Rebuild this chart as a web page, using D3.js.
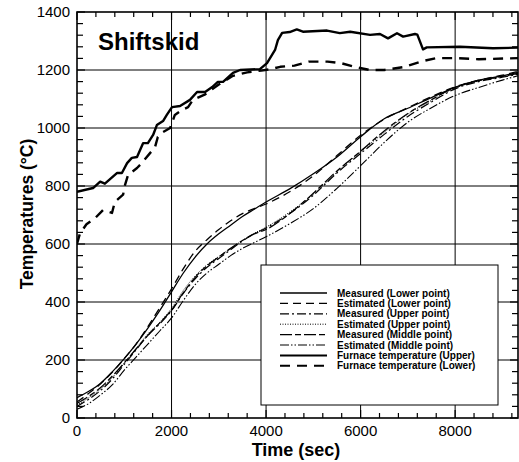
<!DOCTYPE html>
<html>
<head>
<meta charset="utf-8">
<script src="https://cdn.jsdelivr.net/npm/d3@7"></script>
<style>
  body { margin: 0; background: #fff; }
  svg { display: block; font-family: "Liberation Sans", Arial, sans-serif; }
</style>
</head>
<body>
<svg id="lienzo" width="519" height="462"></svg>
<script>
// Tiempo (s) de las curvas de la probeta
const specimenTime = [0, 250, 500, 750, 1000, 1250, 1500, 1750, 2000, 2250, 2500, 2750, 3000, 3250, 3500, 3750, 4000, 4500, 5000, 5500, 6000, 6500, 7000, 7500, 8000, 8500, 9000, 9330];

const measuredLower  = [70, 92, 120, 160, 205, 255, 310, 370, 435, 500, 555, 600, 635, 665, 695, 720, 745, 790, 842, 900, 970, 1032, 1068, 1105, 1140, 1165, 1180, 1192];
const estimatedLower = [55, 85, 118, 158, 205, 255, 315, 380, 445, 515, 575, 615, 650, 680, 705, 722, 738, 780, 835, 905, 975, 1030, 1070, 1108, 1142, 1165, 1182, 1195];
const measuredUpper  = [40, 65, 95, 135, 185, 235, 285, 325, 370, 430, 480, 520, 550, 580, 610, 635, 655, 705, 768, 845, 912, 978, 1040, 1090, 1135, 1160, 1175, 1185];
const estimatedUpper = [45, 70, 100, 140, 190, 240, 290, 330, 378, 440, 490, 528, 557, 585, 612, 637, 658, 710, 772, 848, 918, 985, 1048, 1095, 1138, 1162, 1178, 1188];
const measuredMiddle = [50, 75, 105, 145, 190, 238, 285, 328, 372, 432, 485, 525, 555, 585, 612, 635, 650, 705, 775, 852, 920, 990, 1050, 1098, 1140, 1163, 1178, 1188];
const estimatedMiddle = [30, 50, 80, 115, 165, 210, 255, 300, 345, 405, 460, 500, 530, 560, 585, 605, 625, 670, 722, 792, 870, 950, 1020, 1070, 1112, 1140, 1165, 1180];

// Horno, parte superior
const furnaceUpperTime = [0, 340, 490, 590, 850, 950, 1060, 1160, 1270, 1400, 1500, 1610, 1690, 1820, 1900, 2010, 2180, 2390, 2540, 2710, 2860, 2980, 3090, 3300, 3450, 3870, 4020, 4190, 4250, 4340, 4500, 4650, 4780, 5290, 5560, 5780, 6200, 6410, 6580, 6770, 6900, 7150, 7200, 7320, 7400, 8100, 8800, 9330];
const furnaceUpperTemp = [780, 793, 815, 808, 845, 845, 879, 897, 900, 948, 948, 976, 1010, 1024, 1045, 1072, 1076, 1097, 1124, 1124, 1141, 1159, 1159, 1190, 1200, 1203, 1224, 1269, 1303, 1328, 1331, 1340, 1332, 1336, 1327, 1332, 1321, 1324, 1309, 1327, 1315, 1324, 1322, 1271, 1278, 1280, 1275, 1277];

// Horno, parte inferior
const furnaceLowerTime = [0, 60, 200, 400, 550, 740, 800, 975, 1015, 1080, 1270, 1375, 1650, 1710, 1820, 1970, 2070, 2220, 2350, 2450, 2700, 3000, 3300, 3600, 3900, 4100, 4300, 4600, 4900, 5300, 5600, 5900, 6200, 6500, 6900, 7300, 7600, 8000, 8500, 9330];
const furnaceLowerTemp = [600, 635, 668, 692, 717, 707, 745, 770, 803, 838, 862, 880, 934, 969, 986, 1000, 1045, 1062, 1072, 1097, 1115, 1150, 1180, 1192, 1198, 1203, 1211, 1215, 1229, 1229, 1223, 1210, 1200, 1200, 1210, 1230, 1241, 1241, 1237, 1241];

const xTicks = [0, 2000, 4000, 6000, 8000];
const yTicks = [0, 200, 400, 600, 800, 1000, 1200, 1400];

const svg = d3.select('#lienzo');

const plotLeft = 77, plotRight = 518, plotTop = 12, plotBottom = 418;

const x = d3.scaleLinear().domain([0, 9330]).range([plotLeft, plotRight]);
const y = d3.scaleLinear().domain([0, 1400]).range([plotBottom, plotTop]);

svg.append('clipPath').attr('id', 'clip')
    .append('rect')
    .attr('x', plotLeft).attr('y', plotTop)
    .attr('width', plotRight - plotLeft).attr('height', plotBottom - plotTop);

// Rejilla
svg.append('g')
    .selectAll('line')
    .data(xTicks.slice(1))
    .enter()
    .append('line')
    .attr('x1', d => x(d)).attr('x2', d => x(d))
    .attr('y1', plotTop).attr('y2', plotBottom)
    .attr('stroke', '#000').attr('stroke-width', 1);

svg.append('g')
    .selectAll('line')
    .data(yTicks.slice(1, -1))
    .enter()
    .append('line')
    .attr('x1', plotLeft).attr('x2', plotRight)
    .attr('y1', d => y(d)).attr('y2', d => y(d))
    .attr('stroke', '#000').attr('stroke-width', 1);

const series = [
    { name: 'Measured (Lower point)', t: specimenTime, v: measuredLower, w: 1.3, dash: null, curve: d3.curveMonotoneX },
    { name: 'Estimated (Lower point)', t: specimenTime, v: estimatedLower, w: 1.3, dash: '8,5', curve: d3.curveMonotoneX },
    { name: 'Measured (Upper point)', t: specimenTime, v: measuredUpper, w: 1.2, dash: '9,3,2,3', curve: d3.curveMonotoneX },
    { name: 'Estimated (Upper point)', t: specimenTime, v: estimatedUpper, w: 1, dash: '1,1.5', curve: d3.curveMonotoneX },
    { name: 'Measured (Middle point)', t: specimenTime, v: measuredMiddle, w: 1.3, dash: '12,3,6,3', curve: d3.curveMonotoneX },
    { name: 'Estimated (Middle point)', t: specimenTime, v: estimatedMiddle, w: 1.1, dash: '9,2,1.5,2,1.5,2', curve: d3.curveMonotoneX },
    { name: 'Furnace temperature (Upper)', t: furnaceUpperTime, v: furnaceUpperTemp, w: 2.4, dash: null, curve: d3.curveLinear },
    { name: 'Furnace temperature (Lower)', t: furnaceLowerTime, v: furnaceLowerTemp, w: 2.4, dash: '10,7', curve: d3.curveLinear }
];

const plot = svg.append('g').attr('clip-path', 'url(#clip)');

series.forEach(s => {
    const line = d3.line()
        .x((d, i) => x(s.t[i]))
        .y(d => y(d))
        .curve(s.curve);
    plot.append('path')
        .datum(s.v)
        .attr('d', line)
        .attr('fill', 'none')
        .attr('stroke', '#000')
        .attr('stroke-width', s.w)
        .attr('stroke-linejoin', 'round')
        .attr('stroke-dasharray', s.dash);
});

// Leyenda
const legend = svg.append('g');
legend.append('rect')
    .attr('x', 261).attr('y', 265)
    .attr('width', 237).attr('height', 140)
    .attr('fill', '#fff')
    .attr('stroke', '#000')
    .attr('stroke-width', 1);

const rows = legend.selectAll('g.row')
    .data(series)
    .enter()
    .append('g')
    .attr('class', 'row')
    .attr('transform', (d, i) => `translate(0,${293 + i * 10.4})`);

rows.append('line')
    .attr('x1', 280).attr('x2', 327)
    .attr('stroke', '#000')
    .attr('stroke-width', d => Math.min(d.w, 2))
    .attr('stroke-dasharray', d => d.dash);

rows.append('text')
    .attr('x', 337)
    .attr('dominant-baseline', 'central')
    .attr('font-size', '10px')
    .attr('font-weight', 'bold')
    .text(d => d.name);

// Marco
svg.append('rect')
    .attr('x', plotLeft).attr('y', plotTop)
    .attr('width', plotRight - plotLeft).attr('height', plotBottom - plotTop)
    .attr('fill', 'none')
    .attr('stroke', '#000')
    .attr('stroke-width', 1.6);

// Marcas menores y mayores, hacia dentro
const xMinor = d3.range(0, 9330, 400);
const yMinor = d3.range(0, 1401, 40);
const ticks = svg.append('g').attr('stroke', '#000').attr('stroke-width', 1.2);

xMinor.forEach(t => {
    const len = t % 2000 === 0 ? 8 : 5;
    ticks.append('line').attr('x1', x(t)).attr('x2', x(t)).attr('y1', plotBottom).attr('y2', plotBottom - len);
    ticks.append('line').attr('x1', x(t)).attr('x2', x(t)).attr('y1', plotTop).attr('y2', plotTop + len);
});
yMinor.forEach(v => {
    const len = v % 200 === 0 ? 8 : 6;
    ticks.append('line').attr('y1', y(v)).attr('y2', y(v)).attr('x1', plotLeft).attr('x2', plotLeft + len);
    ticks.append('line').attr('y1', y(v)).attr('y2', y(v)).attr('x1', plotRight).attr('x2', plotRight - len);
});

// Etiquetas de los ejes
svg.append('g')
    .selectAll('text')
    .data(xTicks)
    .enter()
    .append('text')
    .attr('x', d => x(d))
    .attr('y', 436)
    .attr('text-anchor', 'middle')
    .attr('font-size', '15px')
    .text(d => d);

svg.append('g')
    .selectAll('text')
    .data(yTicks)
    .enter()
    .append('text')
    .attr('x', 70)
    .attr('y', d => y(d))
    .attr('dy', '0.35em')
    .attr('text-anchor', 'end')
    .attr('font-size', '15px')
    .text(d => d);

svg.append('text')
    .attr('x', 296)
    .attr('y', 456)
    .attr('text-anchor', 'middle')
    .attr('font-size', '18px')
    .attr('font-weight', 'bold')
    .text('Time (sec)');

svg.append('text')
    .attr('transform', 'translate(33,214) rotate(-90)')
    .attr('text-anchor', 'middle')
    .attr('font-size', '17.5px')
    .attr('font-weight', 'bold')
    .text('Temperatures (°C)');

svg.append('text')
    .attr('x', 98)
    .attr('y', 50)
    .attr('font-size', '24px')
    .attr('font-weight', 'bold')
    .text('Shiftskid');
</script>
</body>
</html>
